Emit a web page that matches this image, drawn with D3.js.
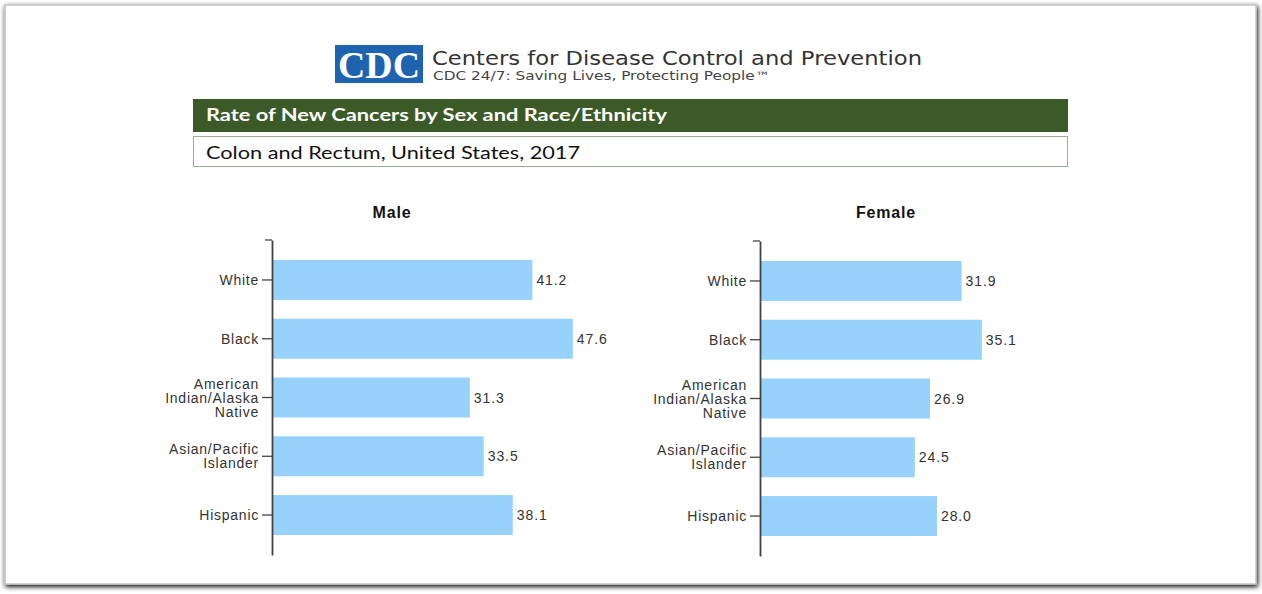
<!DOCTYPE html>
<html>
<head>
<meta charset="utf-8">
<script src="https://cdn.jsdelivr.net/npm/d3@7"></script>
<style>
    body { margin: 0; background: #fff; }
    svg { display: block; }
</style>
</head>
<body>
<div id="chart"></div>
<script>

// Data: rate of new colon and rectum cancers, US 2017
let groups = ["White", "Black", "American Indian/Alaska Native", "Asian/Pacific Islander", "Hispanic"];
let groupLines = [["White"], ["Black"], ["American", "Indian/Alaska", "Native"], ["Asian/Pacific", "Islander"], ["Hispanic"]];
let maleRates = [41.2, 47.6, 31.3, 33.5, 38.1];
let femaleRates = [31.9, 35.1, 26.9, 24.5, 28.0];

let width = 1262, height = 594;
let labelFont = "'Liberation Sans', Arial, sans-serif";

let svg = d3.select("#chart").append("svg")
    .attr("width", width)
    .attr("height", height);

// drop shadow for the frame
let defs = svg.append("defs");
let shadow = defs.append("filter").attr("id", "shadow")
    .attr("x", "-5%").attr("y", "-5%").attr("width", "110%").attr("height", "110%");
shadow.append("feGaussianBlur").attr("in", "SourceAlpha").attr("stdDeviation", 2.5);
shadow.append("feOffset").attr("dx", 1).attr("dy", 2).attr("result", "blur");
let merge = shadow.append("feMerge");
merge.append("feMergeNode").attr("in", "blur");
merge.append("feMergeNode").attr("in", "SourceGraphic");

svg.append("rect")
    .attr("width", width).attr("height", height)
    .attr("fill", "#ffffff");

svg.append("rect")
    .attr("x", 5).attr("y", 5)
    .attr("width", 1251).attr("height", 579)
    .attr("fill", "#ffffff")
    .attr("stroke", "#c4c4c4")
    .attr("stroke-width", 1.5)
    .attr("filter", "url(#shadow)");

// CDC logo
let logo = svg.append("g").attr("transform", "translate(335,45)");
logo.append("rect")
    .attr("width", 88).attr("height", 38)
    .attr("fill", "#1e63b0");
logo.append("text")
    .attr("x", 44).attr("y", 33)
    .attr("text-anchor", "middle")
    .attr("fill", "#ffffff")
    .attr("textLength", 82)
    .attr("lengthAdjust", "spacingAndGlyphs")
    .style("font-family", "'Liberation Serif', 'DejaVu Serif', serif")
    .style("font-weight", "bold")
    .style("font-size", "37px")
    .text("CDC");

svg.append("text")
    .attr("x", 432).attr("y", 65)
    .attr("fill", "#333")
    .attr("textLength", 490)
    .attr("lengthAdjust", "spacingAndGlyphs")
    .style("font-family", "'DejaVu Sans', sans-serif")
    .style("font-size", "19px")
    .text("Centers for Disease Control and Prevention");

svg.append("text")
    .attr("x", 433).attr("y", 80)
    .attr("fill", "#444")
    .attr("textLength", 337)
    .attr("lengthAdjust", "spacingAndGlyphs")
    .style("font-family", "'DejaVu Sans', sans-serif")
    .style("font-size", "11.5px")
    .text("CDC 24/7: Saving Lives, Protecting People\u2122");

// header bars
svg.append("rect")
    .attr("x", 193).attr("y", 99)
    .attr("width", 875).attr("height", 33)
    .attr("fill", "#3c5a27");
svg.append("text")
    .attr("x", 206).attr("y", 121)
    .attr("fill", "#ffffff")
    .attr("textLength", 461)
    .attr("lengthAdjust", "spacingAndGlyphs")
    .style("font-family", "Lato, 'Open Sans', sans-serif")
    .style("font-weight", "bold")
    .style("font-size", "16.5px")
    .text("Rate of New Cancers by Sex and Race/Ethnicity");

svg.append("rect")
    .attr("x", 193.5).attr("y", 136.5)
    .attr("width", 874).attr("height", 30)
    .attr("fill", "#ffffff")
    .attr("stroke", "#9bb08f")
    .attr("stroke-width", 1);
svg.append("text")
    .attr("x", 206).attr("y", 159)
    .attr("fill", "#111")
    .attr("textLength", 374)
    .attr("lengthAdjust", "spacingAndGlyphs")
    .style("font-family", "Lato, 'Open Sans', sans-serif")
    .style("font-size", "17px")
    .text("Colon and Rectum, United States, 2017");

// shared scale: ~6.32 px per unit
let x = d3.scaleLinear()
    .domain([0, 50])
    .range([0, 316]);

function drawPanel(left, top, titleX, title, values) {
    let g = svg.append("g")
        .attr("transform", "translate(" + left + "," + top + ")");

    let y = d3.scaleBand()
        .domain(groups)
        .range([0, 315])
        .paddingInner(0.32)
        .paddingOuter(0.34);

    svg.append("text")
        .attr("x", titleX).attr("y", 218)
        .attr("text-anchor", "middle")
        .attr("fill", "#111")
        .style("font-family", labelFont)
        .style("font-weight", "bold")
        .style("font-size", "16px")
        .style("letter-spacing", "0.8px")
        .text(title);

    g.selectAll(".bar")
        .data(values)
        .enter().append("rect")
        .attr("class", "bar")
        .attr("x", 0)
        .attr("y", (d, i) => y(groups[i]))
        .attr("width", d => x(d))
        .attr("height", y.bandwidth())
        .attr("fill", "#97d2fc");

    g.selectAll(".val")
        .data(values)
        .enter().append("text")
        .attr("class", "val")
        .attr("x", d => x(d) + 4)
        .attr("y", (d, i) => y(groups[i]) + y.bandwidth() / 2 + 5)
        .attr("fill", "#333")
        .style("font-family", labelFont)
        .style("font-size", "14px")
        .style("letter-spacing", "0.9px")
        .text(d => d.toFixed(1));

    let yAxis = d3.axisLeft(y).tickSize(10).tickSizeOuter(0).tickFormat("");
    let ax = g.append("g").call(yAxis);
    ax.select(".domain").attr("stroke", "#444").attr("stroke-width", 1.8);
    ax.selectAll(".tick line").attr("stroke", "#444").attr("stroke-width", 1.3);

    // short cap at the top of the axis
    g.append("line")
        .attr("x1", -7).attr("x2", 0)
        .attr("y1", y.range()[0]).attr("y2", y.range()[0])
        .attr("stroke", "#444").attr("stroke-width", 1.3);

    // multi-line category labels
    groups.forEach(function(name, i) {
        let lines = groupLines[i];
        let cy = y(name) + y.bandwidth() / 2;
        let t = g.append("text")
            .attr("text-anchor", "end")
            .attr("fill", "#333")
            .style("font-family", labelFont)
            .style("font-size", "14px")
            .style("letter-spacing", "0.75px");
        lines.forEach(function(line, j) {
            t.append("tspan")
                .attr("x", -13)
                .attr("y", cy + 5 + (j - (lines.length - 1) / 2) * 14)
                .text(line);
        });
    });
}

drawPanel(272, 240, 392, "Male", maleRates);
drawPanel(760, 241, 886, "Female", femaleRates);

</script>
</body>
</html>
